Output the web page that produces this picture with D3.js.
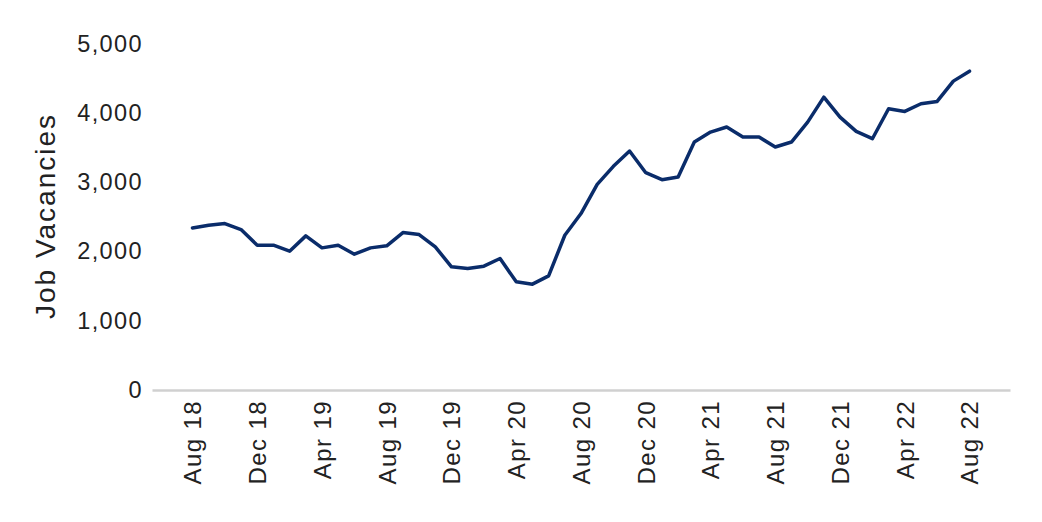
<!DOCTYPE html>
<html><head><meta charset="utf-8">
<script src="https://cdn.jsdelivr.net/npm/d3@7"></script>
<style>body{margin:0;background:#fff}svg{display:block}</style>
</head><body>
<script>
const months = ["Aug 18","Sep 18","Oct 18","Nov 18","Dec 18","Jan 19","Feb 19","Mar 19","Apr 19","May 19","Jun 19","Jul 19","Aug 19","Sep 19","Oct 19","Nov 19","Dec 19","Jan 20","Feb 20","Mar 20","Apr 20","May 20","Jun 20","Jul 20","Aug 20","Sep 20","Oct 20","Nov 20","Dec 20","Jan 21","Feb 21","Mar 21","Apr 21","May 21","Jun 21","Jul 21","Aug 21","Sep 21","Oct 21","Nov 21","Dec 21","Jan 22","Feb 22","Mar 22","Apr 22","May 22","Jun 22","Jul 22","Aug 22"];
const vacancies = [2339,2378,2402,2315,2089,2089,2003,2224,2051,2089,1960,2051,2080,2272,2243,2065,1777,1753,1787,1897,1561,1527,1647,2233,2546,2968,3228,3449,3136,3035,3074,3580,3722,3795,3650,3650,3506,3578,3866,4226,3938,3732,3626,4059,4020,4131,4164,4457,4601];
const tickLabels = ["Aug 18","Dec 18","Apr 19","Aug 19","Dec 19","Apr 20","Aug 20","Dec 20","Apr 21","Aug 21","Dec 21","Apr 22","Aug 22"];
const yTicks = [0,1000,2000,3000,4000,5000];
const yTitle = "Job Vacancies";

const W = 1042, H = 522;
const svg = d3.select("body").append("svg").attr("width", W).attr("height", H);
const x = d3.scalePoint().domain(months).range([152, 1010]).padding(2.5);
const y = d3.scaleLinear().domain([0, 5000]).range([390, 43.5]);
const font = "'Liberation Sans', Arial, Helvetica, sans-serif";

// x axis
const xAxis = svg.append("g").attr("transform", "translate(0,390)")
  .call(d3.axisBottom(x).tickValues(tickLabels).tickSize(0).tickSizeOuter(0));
xAxis.select(".domain").attr("stroke", "#d0d0d0").attr("stroke-width", 2.5);
xAxis.selectAll("text")
  .attr("transform", "rotate(-90)")
  .attr("x", -10).attr("y", 0).attr("dy", "0.35em")
  .attr("text-anchor", "end")
  .style("font-family", font).style("font-size", "24px")
  .style("letter-spacing", "1.4px").attr("fill", "#222");

// y axis
const yAxis = svg.append("g").attr("transform", "translate(152,0)")
  .call(d3.axisLeft(y).tickValues(yTicks).tickSize(0).tickFormat(d3.format(",")));
yAxis.select(".domain").remove();
yAxis.selectAll("text")
  .attr("x", -9)
  .style("font-family", font).style("font-size", "23.5px")
  .style("letter-spacing", "1.4px").attr("fill", "#222");

// y title
svg.append("text")
  .attr("transform", "translate(45,216) rotate(-90)")
  .attr("text-anchor", "middle").attr("dy", "0.35em")
  .style("font-family", font).style("font-size", "28px")
  .style("letter-spacing", "2px").attr("fill", "#222")
  .text(yTitle);

// line
const line = d3.line().x((d, i) => x(months[i])).y(d => y(d));
svg.append("path").datum(vacancies)
  .attr("d", line).attr("fill", "none")
  .attr("stroke", "#0a2c6a").attr("stroke-width", 3.5)
  .attr("stroke-linejoin", "round").attr("stroke-linecap", "round");
</script>
</body></html>
